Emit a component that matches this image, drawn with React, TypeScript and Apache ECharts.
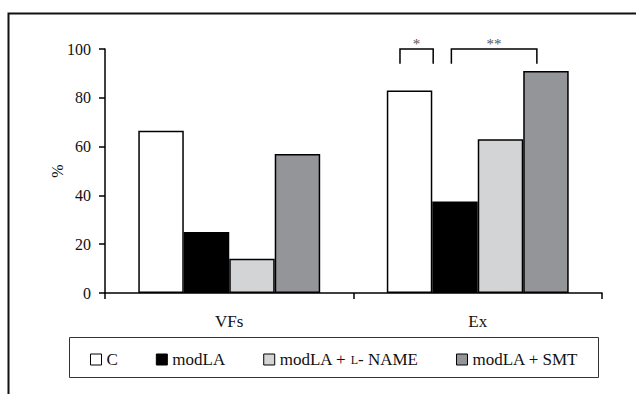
import React, { useEffect, useRef } from "react";
import * as echarts from "echarts";

const categories = ["VFs", "Ex"];
const seriesNames = ["C", "modLA", "modLA + L- NAME", "modLA + SMT"];
const valuesC = [66.5, 83];
const valuesModLA = [25, 37.5];
const valuesLName = [14, 63];
const valuesSMT = [57, 91];
const seriesColors = ["#ffffff", "#000000", "#d3d4d6", "#939598"];
const yTicks = [0, 20, 40, 60, 80, 100];

// significance brackets: category index, start / end position (in bar widths from group left), top, bottom, label value
const bracketCat = [1, 1];
const bracketStart = [0.29, 1.42];
const bracketEnd = [1.02, 3.3];
const bracketTop = [100, 100];
const bracketBottom = [94, 94];
const bracketLabelY = [102, 102];
const bracketLabels = ["*", "**"];

const CAT_GAP = 0.268;
const FONT = "Liberation Serif";

export default function App() {
  const ref = useRef<HTMLDivElement>(null);
  useEffect(() => {
    document.body.style.margin = "0";
    const chart = echarts.init(ref.current!, null, { renderer: "svg" });
    const allValues = [valuesC, valuesModLA, valuesLName, valuesSMT];
    const barSeries = seriesNames.map((n, i) => ({
      name: n,
      type: "bar",
      data: allValues[i],
      barGap: "0%",
      barCategoryGap: CAT_GAP * 100 + "%",
      itemStyle: { color: seriesColors[i], borderColor: "#000", borderWidth: 1.5 },
    }));
    const bracketData = bracketCat.map((c, i) => [c, bracketStart[i], bracketEnd[i], bracketTop[i], bracketBottom[i], bracketLabelY[i]]);
    chart.setOption({
      animation: false,
      textStyle: { fontFamily: FONT },
      grid: { left: 105, right: 34, top: 49, bottom: 101 },
      legend: {
        data: seriesNames,
        left: 85,
        top: 346,
        icon: "rect",
        itemWidth: 11,
        itemHeight: 11,
        itemGap: 38,
        itemStyle: { borderColor: "#000", borderWidth: 1 },
        textStyle: {
          fontFamily: FONT,
          fontSize: 17,
          color: "#111",
          rich: { sc: { fontFamily: FONT, fontSize: 12, color: "#111" }, n: { fontFamily: FONT, fontSize: 17, color: "#111" } },
        },
        formatter: (name: string) => (name === "modLA + L- NAME" ? "{n|modLA + }{sc|L}{n|- NAME}" : name),
      },
      xAxis: {
        type: "category",
        data: categories,
        axisLine: { lineStyle: { color: "#000", width: 1.5 } },
        axisTick: { show: true, length: 6, lineStyle: { color: "#000", width: 1.5 } },
        axisLabel: { fontFamily: FONT, fontSize: 17, color: "#111", margin: 20 },
      },
      yAxis: {
        type: "value",
        min: 0,
        max: 100,
        interval: 20,
        name: "%",
        nameLocation: "middle",
        nameRotate: 90,
        nameGap: 40,
        nameMoveOverlap: false,
        nameTextStyle: { fontFamily: FONT, fontSize: 16, color: "#111" },
        splitLine: { show: false },
        axisLine: { show: true, lineStyle: { color: "#000", width: 1.5 } },
        axisTick: { show: true, length: 6, lineStyle: { color: "#000", width: 1.5 } },
        axisLabel: {
          fontFamily: FONT,
          fontSize: 16,
          color: "#111",
          margin: 14,
          formatter: (v: number) => (yTicks.includes(v) ? String(v) : ""),
        },
      },
      series: [
        ...barSeries,
        {
          type: "custom",
          silent: true,
          clip: false,
          z: 10,
          encode: { x: 0, y: 3 },
          data: bracketData,
          renderItem: (params: any, api: any) => {
            const cat = api.value(0);
            const p0 = api.value(1);
            const p1 = api.value(2);
            const top = api.value(3);
            const bottom = api.value(4);
            const ly = api.value(5);
            const ct = api.coord([cat, top]);
            const cb = api.coord([cat, bottom]);
            const cl = api.coord([cat, ly]);
            const band = api.size([1, 0])[0];
            const barW = (band * (1 - CAT_GAP)) / 4;
            const left = ct[0] - 2 * barW;
            const x0 = left + p0 * barW;
            const x1 = left + p1 * barW;
            return {
              type: "group",
              children: [
                {
                  type: "polyline",
                  shape: { points: [[x0, cb[1]], [x0, ct[1]], [x1, ct[1]], [x1, cb[1]]] },
                  style: { stroke: "#000", lineWidth: 1.5, fill: "none" },
                },
                {
                  type: "text",
                  x: (x0 + x1) / 2,
                  y: cl[1],
                  style: {
                    text: bracketLabels[params.dataIndex],
                    fontFamily: FONT,
                    fontSize: 15,
                    fill: "#555",
                    align: "center",
                    verticalAlign: "middle",
                  },
                },
              ],
            };
          },
        },
      ],
      graphic: [
        {
          type: "polyline",
          shape: { points: [[8.5, 394], [8.5, 13.5], [636, 13.5]] },
          style: { stroke: "#111", lineWidth: 2, fill: "none" },
        },
        {
          type: "rect",
          shape: { x: 69.5, y: 337.5, width: 529, height: 40 },
          style: { stroke: "#333", lineWidth: 1, fill: "none" },
          z: -1,
        },
      ],
    });
    return () => chart.dispose();
  }, []);
  return <div ref={ref} style={{ width: 636, height: 394 }} />;
}
